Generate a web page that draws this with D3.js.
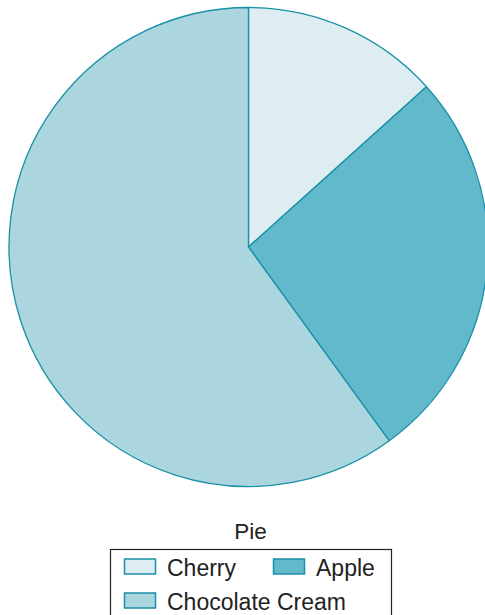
<!DOCTYPE html>
<html>
<head>
<meta charset="utf-8">
<script src="https://cdn.jsdelivr.net/npm/d3@7"></script>
<style>
  html, body { margin: 0; padding: 0; background: #fff; }
  svg { display: block; font-family: "Liberation Sans", Arial, Helvetica, sans-serif; }
</style>
</head>
<body>
<svg id="chart" width="485" height="615"></svg>
<script>
// Pie slices, in drawing order clockwise from 12 o'clock
const categories = ["Cherry", "Apple", "Chocolate Cream"];
const values = [2, 4, 9];
const colors = ["#deedf2", "#63b9cc", "#abd5df"];
const strokeColor = "#1890a6";
const title = "Pie";

const svg = d3.select("#chart");
const cx = 248.5, cy = 247, radius = 239.5;

const color = d3.scaleOrdinal().domain(categories).range(colors);

const pie = d3.pie()
  .sort(null)
  .value((d, i) => values[i]);

const arc = d3.arc().innerRadius(0).outerRadius(radius);

svg.append("g")
  .attr("transform", `translate(${cx},${cy})`)
  .selectAll("path")
  .data(pie(categories))
  .join("path")
  .attr("d", arc)
  .attr("fill", d => color(d.data))
  .attr("stroke", strokeColor)
  .attr("stroke-width", 1.3)
  .attr("stroke-linejoin", "round");

// Legend title
svg.append("text")
  .attr("x", 250.5)
  .attr("y", 539)
  .attr("text-anchor", "middle")
  .attr("font-size", 22.5)
  .attr("fill", "#222")
  .text(title);

// Legend box
const legend = svg.append("g");
legend.append("rect")
  .attr("x", 110.5)
  .attr("y", 549.5)
  .attr("width", 281)
  .attr("height", 100)
  .attr("fill", "#fff")
  .attr("stroke", "#222")
  .attr("stroke-width", 1.2);

// Two columns on the first row, wrapping to a second row
const itemPos = [
  { x: 124.5, y: 559 },
  { x: 273.5, y: 559 },
  { x: 124.5, y: 593 }
];

const items = legend.selectAll("g.item")
  .data(categories)
  .join("g")
  .attr("class", "item")
  .attr("transform", (d, i) => `translate(${itemPos[i].x},${itemPos[i].y})`);

items.append("rect")
  .attr("width", 31)
  .attr("height", 15)
  .attr("fill", d => color(d))
  .attr("stroke", strokeColor)
  .attr("stroke-width", 1.5);

items.append("text")
  .attr("x", 42.5)
  .attr("y", 16.5)
  .attr("font-size", 23)
  .attr("fill", "#222")
  .text(d => d);
</script>
</body>
</html>
